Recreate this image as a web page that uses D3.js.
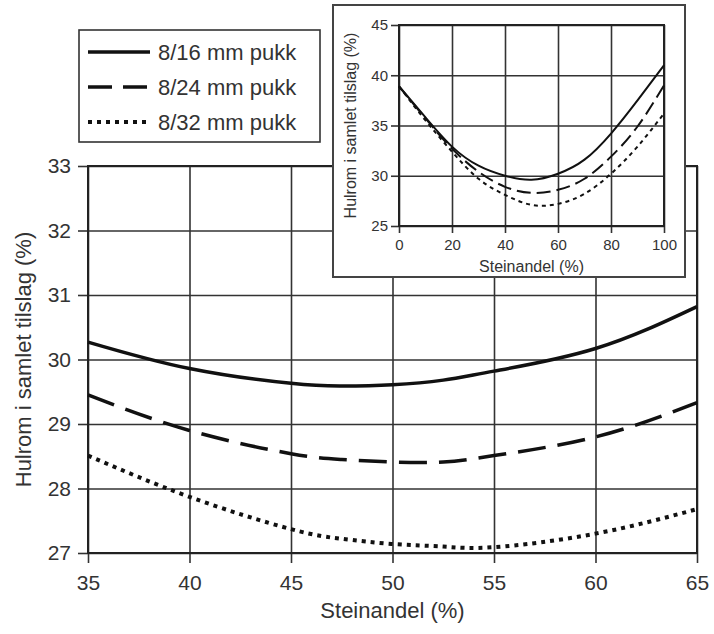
<!DOCTYPE html>
<html>
<head>
<meta charset="utf-8">
<script src="https://cdn.jsdelivr.net/npm/d3@7"></script>
<style>
  body { margin: 0; background: #fff; }
  svg { display: block; font-family: "Liberation Sans", Arial, sans-serif; }
  .grid line { stroke: #333; stroke-width: 1.6; }
  .grid path { display: none; }
  .axis path { display: none; }
  .axis line { stroke: #333; stroke-width: 1.6; }
  .axis text { fill: #333; }
</style>
</head>
<body>
<svg id="chart" width="714" height="634"></svg>
<script>
// Main chart data (Steinandel 35-65 %)
const mainX = [35, 40, 45, 47.5, 50, 52.5, 55, 60, 65];
const mainPukk16 = [30.27, 29.86, 29.63, 29.59, 29.61, 29.68, 29.82, 30.17, 30.82];
const mainPukk24 = [29.45, 28.90, 28.54, 28.45, 28.41, 28.41, 28.51, 28.80, 29.33];
const mainPukk32 = [28.51, 27.87, 27.37, 27.22, 27.14, 27.10, 27.09, 27.30, 27.68];

// Inset data (Steinandel 0-100 %)
const insetX = [0, 10, 20, 30, 40, 50, 60, 70, 80, 90, 100];
const insetPukk16 = [38.9, 35.8, 32.9, 31.0, 30.0, 29.6, 30.2, 31.6, 34.2, 37.5, 41.0];
const insetPukk24 = [38.9, 35.7, 32.7, 30.4, 28.9, 28.3, 28.6, 29.7, 31.9, 34.9, 39.0];
const insetPukk32 = [38.9, 35.5, 32.4, 29.7, 28.1, 27.1, 27.2, 28.2, 30.2, 32.9, 36.2];

const seriesNames = ["8/16 mm pukk", "8/24 mm pukk", "8/32 mm pukk"];
const mainXTicks = [35, 40, 45, 50, 55, 60, 65];
const mainYTicks = [27, 28, 29, 30, 31, 32, 33];
const insetXTicks = [0, 20, 40, 60, 80, 100];
const insetYTicks = [25, 30, 35, 40, 45];
const xLabel = "Steinandel (%)";
const yLabel = "Hulrom i samlet tilslag (%)";

const svg = d3.select('#chart');
const fmt = d3.format('d');

// ---------- main plot ----------
const x = d3.scaleLinear().domain([35, 65]).range([88, 697]);
const y = d3.scaleLinear().domain([27, 33]).range([553, 166]);

// grid
svg.append('g').attr('class', 'grid')
    .attr('transform', `translate(0,${y(27)})`)
    .call(d3.axisBottom(x).tickValues(mainXTicks).tickSize(-(y(27) - y(33))).tickFormat(''));
svg.append('g').attr('class', 'grid')
    .attr('transform', `translate(${x(35)},0)`)
    .call(d3.axisLeft(y).tickValues(mainYTicks).tickSize(-(x(65) - x(35))).tickFormat(''));

// axes with outward ticks
svg.append('g').attr('class', 'axis')
    .attr('transform', `translate(0,${y(27)})`)
    .call(d3.axisBottom(x).tickValues(mainXTicks).tickFormat(fmt).tickSize(10).tickPadding(12))
    .selectAll('text').style('font-size', '21px');
svg.append('g').attr('class', 'axis')
    .attr('transform', `translate(${x(35)},0)`)
    .call(d3.axisLeft(y).tickValues(mainYTicks).tickFormat(fmt).tickSize(10).tickPadding(7))
    .selectAll('text').style('font-size', '21px');

// frame
svg.append('rect')
    .attr('x', x(35)).attr('y', y(33))
    .attr('width', x(65) - x(35)).attr('height', y(27) - y(33))
    .attr('fill', 'none').attr('stroke', '#222').attr('stroke-width', 2);

svg.append('text')
    .attr('x', (x(35) + x(65)) / 2).attr('y', 618)
    .attr('text-anchor', 'middle').style('font-size', '22px').attr('fill', '#333')
    .text(xLabel);
svg.append('text')
    .attr('transform', `translate(31,${(y(27) + y(33)) / 2}) rotate(-90)`)
    .attr('text-anchor', 'middle').style('font-size', '22px').attr('fill', '#333')
    .text(yLabel);

const styles = [
    { dash: null, widthMain: 3.5, widthInset: 2, insetDash: null },
    { dash: '28,12', widthMain: 3.5, widthInset: 2, insetDash: '14,6' },
    { dash: '4,5', widthMain: 4, widthInset: 2, insetDash: '4,4' }
];

const mainSeries = [mainPukk16, mainPukk24, mainPukk32];
const lineMain = d3.line().x(d => x(d[0])).y(d => y(d[1])).curve(d3.curveNatural);
mainSeries.forEach((vals, i) => {
    svg.append('path')
        .datum(mainX.map((v, j) => [v, vals[j]]))
        .attr('d', lineMain)
        .attr('fill', 'none')
        .attr('stroke', '#111')
        .attr('stroke-width', styles[i].widthMain)
        .attr('stroke-dasharray', styles[i].dash);
});

// ---------- legend ----------
const legend = svg.append('g');
legend.append('rect')
    .attr('x', 79).attr('y', 30).attr('width', 241).attr('height', 112)
    .attr('fill', '#fff').attr('stroke', '#333').attr('stroke-width', 1.6);
seriesNames.forEach((name, i) => {
    const ly = 52 + i * 35;
    legend.append('line')
        .attr('x1', 88).attr('x2', 150).attr('y1', ly).attr('y2', ly)
        .attr('stroke', '#111')
        .attr('stroke-width', i === 2 ? 4 : 3.5)
        .attr('stroke-dasharray', i === 1 ? '24,11' : i === 2 ? '4,5' : null);
    legend.append('text')
        .attr('x', 158).attr('y', ly).attr('dy', '0.35em')
        .style('font-size', '22px').attr('fill', '#333')
        .text(name);
});

// ---------- inset ----------
svg.append('rect')
    .attr('x', 333).attr('y', 5).attr('width', 352).attr('height', 272)
    .attr('fill', '#fff').attr('stroke', '#444').attr('stroke-width', 2);

const xi = d3.scaleLinear().domain([0, 100]).range([399, 664]);
const yi = d3.scaleLinear().domain([25, 45]).range([226, 25]);

svg.append('g').attr('class', 'grid')
    .attr('transform', `translate(0,${yi(25)})`)
    .call(d3.axisBottom(xi).tickValues(insetXTicks).tickSize(-(yi(25) - yi(45))).tickFormat(''));
svg.append('g').attr('class', 'grid')
    .attr('transform', `translate(${xi(0)},0)`)
    .call(d3.axisLeft(yi).tickValues(insetYTicks).tickSize(-(xi(100) - xi(0))).tickFormat(''));
svg.append('g').attr('class', 'axis')
    .attr('transform', `translate(0,${yi(25)})`)
    .call(d3.axisBottom(xi).tickValues(insetXTicks).tickFormat(fmt).tickSize(7).tickPadding(6))
    .selectAll('text').style('font-size', '15px');
svg.append('g').attr('class', 'axis')
    .attr('transform', `translate(${xi(0)},0)`)
    .call(d3.axisLeft(yi).tickValues(insetYTicks).tickFormat(fmt).tickSize(8).tickPadding(3))
    .selectAll('text').style('font-size', '15px');
svg.append('rect')
    .attr('x', xi(0)).attr('y', yi(45))
    .attr('width', xi(100) - xi(0)).attr('height', yi(25) - yi(45))
    .attr('fill', 'none').attr('stroke', '#222').attr('stroke-width', 2);

svg.append('text')
    .attr('x', (xi(0) + xi(100)) / 2).attr('y', 272)
    .attr('text-anchor', 'middle').style('font-size', '16px').attr('fill', '#333')
    .text(xLabel);
svg.append('text')
    .attr('transform', `translate(356,${(yi(25) + yi(45)) / 2}) rotate(-90)`)
    .attr('text-anchor', 'middle').style('font-size', '16px').attr('fill', '#333')
    .text(yLabel);

const insetSeries = [insetPukk16, insetPukk24, insetPukk32];
const lineInset = d3.line().x(d => xi(d[0])).y(d => yi(d[1])).curve(d3.curveNatural);
insetSeries.forEach((vals, i) => {
    svg.append('path')
        .datum(insetX.map((v, j) => [v, vals[j]]))
        .attr('d', lineInset)
        .attr('fill', 'none')
        .attr('stroke', '#111')
        .attr('stroke-width', styles[i].widthInset)
        .attr('stroke-dasharray', styles[i].insetDash);
});
</script>
</body>
</html>
